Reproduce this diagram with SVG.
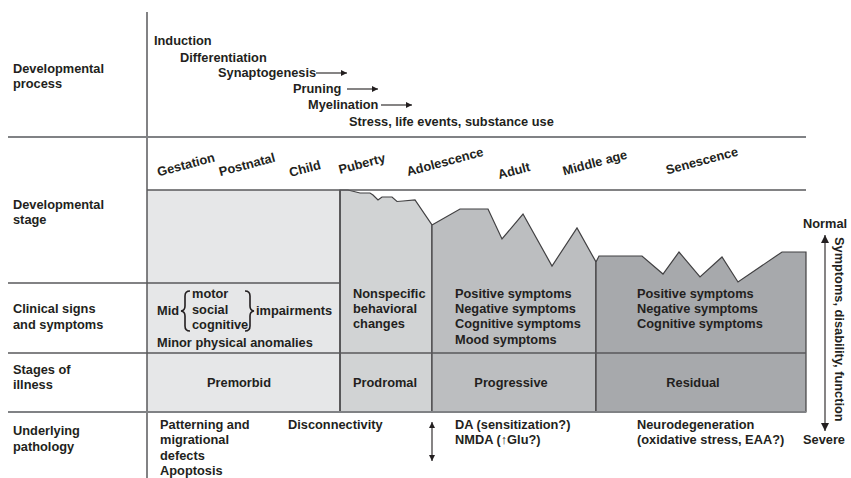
<svg xmlns="http://www.w3.org/2000/svg" width="851" height="478" viewBox="0 0 851 478">
<style>
text{font-family:"Liberation Sans",Arial,sans-serif;font-weight:bold;font-size:12.8px;fill:#231f20}
.rule{stroke:#58595b;stroke-width:1.5;fill:none}
.rule2{stroke:#808285;stroke-width:2;fill:none}
.edge{stroke:#414042;stroke-width:1.2}
.arr{stroke:#231f20;stroke-width:1.1;fill:none}
.brace{stroke:#231f20;stroke-width:1.6;fill:none}
</style>
<defs>
<marker id="ah" viewBox="0 0 10 10" refX="10" refY="5" markerWidth="8" markerHeight="6" markerUnits="userSpaceOnUse" orient="auto-start-reverse">
<path d="M0,0 L10,5 L0,10 Z" fill="#231f20"/>
</marker>
<marker id="ahb" viewBox="0 0 10 10" refX="10" refY="5" markerWidth="12" markerHeight="8" markerUnits="userSpaceOnUse" orient="auto-start-reverse">
<path d="M0,0 L10,5 L0,10 Z" fill="#231f20"/>
</marker>
</defs>
<rect width="851" height="478" fill="#ffffff"/>

<g id="regions">
<rect id="premorbid-area" x="147" y="190" width="193" height="222" fill="#e6e7e8"/>
<polygon id="prodromal-area" class="edge" fill="#d1d3d4" points="340,190 348,190 360,193 370,193 373,195 378,200 382,197 392,197 397,201.5 403,201 415,200 432,225 432,412 340,412"/>
<polygon id="progressive-area" class="edge" fill="#bcbec0" points="432,225 460,209 488,209 502,239 523,214 552,266 577,228 596,262 596,412 432,412"/>
<polygon id="residual-area" class="edge" fill="#a7a9ac" points="596,262 599,256 642,256 663,274 679,252 700,277 722,257 738,282 782,252 806,252 806,412 596,412"/>
<line class="edge" x1="340" y1="190" x2="340" y2="412"/>
</g>

<g id="grid">
<line class="rule" x1="147" y1="12" x2="147" y2="478"/>
<line class="rule2" x1="8" y1="137" x2="806" y2="137"/>
<line class="rule" x1="147" y1="190" x2="806" y2="190"/>
<line class="rule" x1="8" y1="283" x2="340" y2="283"/>
<line class="rule" x1="8" y1="353" x2="806" y2="353"/>
<line class="rule2" x1="8" y1="412" x2="806" y2="412"/>
</g>

<g id="row-labels">
<text x="13" y="73">Developmental</text>
<text x="13" y="88">process</text>
<text x="13" y="209">Developmental</text>
<text x="13" y="224">stage</text>
<text x="13" y="313">Clinical signs</text>
<text x="13" y="329">and symptoms</text>
<text x="13" y="374">Stages of</text>
<text x="13" y="389">illness</text>
<text x="13" y="435">Underlying</text>
<text x="13" y="451">pathology</text>
</g>

<g id="process">
<text x="154" y="45">Induction</text>
<text x="180" y="62">Differentiation</text>
<text x="218" y="77">Synaptogenesis</text>
<text x="293" y="93">Pruning</text>
<text x="308" y="109">Myelination</text>
<text x="349" y="126">Stress, life events, substance use</text>
</g>

<g id="stages">
<text transform="translate(186,165) rotate(-15)" y="4" text-anchor="middle">Gestation</text>
<text transform="translate(247,165) rotate(-15)" y="4" text-anchor="middle">Postnatal</text>
<text transform="translate(305,169) rotate(-15)" y="4" text-anchor="middle">Child</text>
<text transform="translate(362,164) rotate(-15)" y="4" text-anchor="middle">Puberty</text>
<text transform="translate(445,162) rotate(-15)" y="4" text-anchor="middle">Adolescence</text>
<text transform="translate(514,171) rotate(-15)" y="4" text-anchor="middle">Adult</text>
<text transform="translate(595,163) rotate(-15)" y="4" text-anchor="middle">Middle age</text>
<text transform="translate(702,161) rotate(-15)" y="4" text-anchor="middle">Senescence</text>
</g>

<g id="clinical-premorbid">
<text x="157" y="315">Mid</text>
<path class="brace" d="M190,291 Q185,291 185,296 L185,306 Q185,310.5 181,311 Q185,311.5 185,316 L185,326 Q185,331 190,331"/>
<text x="192" y="298">motor</text>
<text x="192" y="314">social</text>
<text x="192" y="329">cognitive</text>
<path class="brace" d="M245,291 Q250,291 250,296 L250,306 Q250,310.5 254,311 Q250,311.5 250,316 L250,326 Q250,331 245,331"/>
<text x="256" y="315">impairments</text>
<text x="157" y="347">Minor physical anomalies</text>
</g>

<g id="clinical-prodromal">
<text x="353" y="298">Nonspecific</text>
<text x="353" y="313">behavioral</text>
<text x="353" y="328">changes</text>
</g>

<g id="clinical-progressive">
<text x="455" y="298">Positive symptoms</text>
<text x="455" y="313">Negative symptoms</text>
<text x="455" y="328">Cognitive symptoms</text>
<text x="455" y="344">Mood symptoms</text>
</g>

<g id="clinical-residual">
<text x="637" y="298">Positive symptoms</text>
<text x="637" y="313">Negative symptoms</text>
<text x="637" y="328">Cognitive symptoms</text>
</g>

<g id="stage-premorbid"><text x="239" y="387" text-anchor="middle">Premorbid</text></g>
<g id="stage-prodromal"><text x="385" y="387" text-anchor="middle">Prodromal</text></g>
<g id="stage-progressive"><text x="511" y="387" text-anchor="middle">Progressive</text></g>
<g id="stage-residual"><text x="693" y="387" text-anchor="middle">Residual</text></g>

<g id="pathology">
<text x="160" y="429">Patterning and</text>
<text x="160" y="444">migrational</text>
<text x="160" y="460">defects</text>
<text x="160" y="475">Apoptosis</text>
<text x="288" y="429">Disconnectivity</text>
<text x="455" y="429">DA (sensitization?)</text>
<text x="455" y="444">NMDA (↑Glu?)</text>
<text x="637" y="429">Neurodegeneration</text>
<text x="637" y="444">(oxidative stress, EAA?)</text>
</g>

<g id="axis">
<text x="803" y="228">Normal</text>
<text x="803" y="444">Severe</text>
<text transform="translate(835,237) rotate(90)">Symptoms, disability, function</text>
</g>

<g id="connectors">
<line class="arr" x1="316" y1="73" x2="347" y2="73" marker-end="url(#ah)"/>
<line class="arr" x1="347" y1="89" x2="378" y2="89" marker-end="url(#ah)"/>
<line class="arr" x1="381" y1="105" x2="412" y2="105" marker-end="url(#ah)"/>
<line class="arr" x1="432" y1="422" x2="432" y2="461" marker-start="url(#ah)" marker-end="url(#ah)"/>
<line class="arr" x1="825" y1="235" x2="825" y2="431" marker-start="url(#ahb)" marker-end="url(#ahb)"/>
</g>
</svg>
